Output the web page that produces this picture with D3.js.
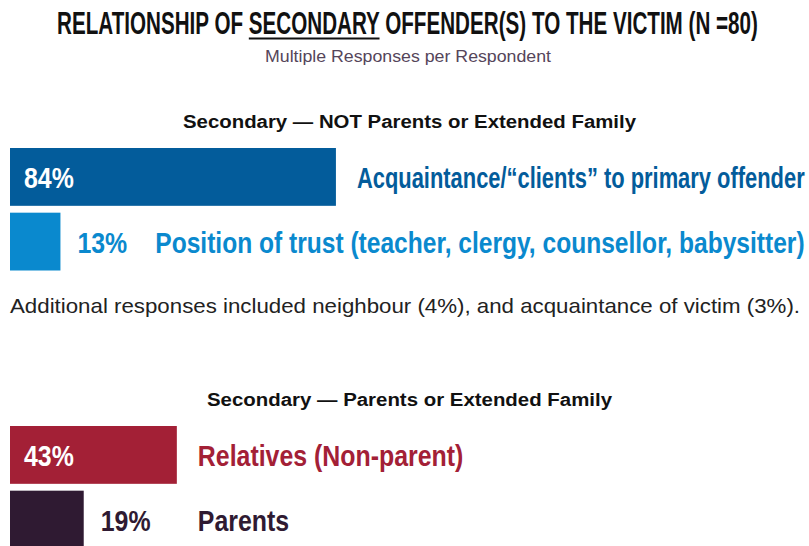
<!DOCTYPE html>
<html>
<head>
<meta charset="utf-8">
<script src="https://cdn.jsdelivr.net/npm/d3@7"></script>
<style>
  body { margin: 0; background: #fff; }
  text { font-family: "Liberation Sans", Arial, sans-serif; }
</style>
</head>
<body>
<div id="chart"></div>
<script>
// chart data
const groupTitles = ['Secondary — NOT Parents or Extended Family', 'Secondary — Parents or Extended Family']
const notCategories = ['Acquaintance/“clients” to primary offender', 'Position of trust (teacher, clergy, counsellor, babysitter)']
const notValues = [84, 13]
const familyCategories = ['Relatives (Non-parent)', 'Parents']
const familyValues = [43, 19]
const noteText = 'Additional responses included neighbour (4%), and acquaintance of victim (3%).'

const notColors = ['#035c9b', '#0a89ce']
const familyColors = ['#a32036', '#2f1a32']

const width = 809, height = 546
const squeeze = 0.83   // condensed look for the big labels

const svg = d3.select('#chart').append('svg')
  .attr('width', width)
  .attr('height', height)

// squeeze/stretch a text to a given width
function fit(sel, w) {
  sel.attr('textLength', w).attr('lengthAdjust', 'spacingAndGlyphs')
  return sel
}

// a text drawn at (0,0) inside a group, condensed by a horizontal scale
function condensed(parent, str, size, color) {
  const g = parent.append('g')
  const t = g.append('text')
    .attr('font-size', size)
    .attr('font-weight', 'bold')
    .attr('fill', color)
    .text(str)
  return { g, t, w: t.node().getComputedTextLength() }
}

// title, condensed through a horizontal scale so the underline follows it
const titleText = 'RELATIONSHIP OF SECONDARY OFFENDER(S) TO THE VICTIM (N =80)'
const title = condensed(svg, titleText, 31, '#111')
const tn = title.t.node()
const u0 = titleText.indexOf('SECONDARY')
const ux = tn.getSubStringLength(0, u0)
const uw = tn.getSubStringLength(u0, 9)
title.g.attr('transform', `translate(57,34) scale(${701 / title.w},1)`)
title.g.append('line')
  .attr('x1', ux)
  .attr('x2', ux + uw)
  .attr('y1', 4.5)
  .attr('y2', 4.5)
  .attr('stroke', '#111')
  .attr('stroke-width', 2)

fit(svg.append('text')
  .attr('x', 265)
  .attr('y', 62)
  .attr('font-size', 16)
  .attr('fill', '#55455a')
  .text('Multiple Responses per Respondent'), 286)

const x = d3.scaleLinear().domain([0, 100]).range([10, 398])

function drawGroup(heading, cats, vals, colors, top, headWidth) {
  const g = svg.append('g')

  fit(g.append('text')
    .attr('x', width / 2 + 5)
    .attr('y', top - 20)
    .attr('text-anchor', 'middle')
    .attr('font-family', 'Open Sans')
    .attr('font-size', 18)
    .attr('font-weight', 'bold')
    .attr('fill', '#111')
    .text(heading), headWidth)

  const y = d3.scaleBand()
    .domain(cats)
    .range([top, top + 122.5])
    .paddingInner(0.106)

  const rows = cats.map((c, i) => ({ cat: c, val: vals[i], color: colors[i] }))
  const base = d => y(d.cat) + y.bandwidth() / 2 + 11

  g.selectAll('rect')
    .data(rows)
    .enter()
    .append('rect')
    .attr('x', x(0))
    .attr('y', d => y(d.cat))
    .attr('width', d => x(d.val) - x(0))
    .attr('height', y.bandwidth())
    .attr('fill', d => d.color)

  // percent: inside the bar when it is long, after it when short
  const ends = rows.map(d => {
    const inside = d.val > 30
    const p = condensed(g, d.val + '%', 30, inside ? '#fff' : d.color)
    const px = inside ? x(0) + 14 : x(d.val) + 17
    p.g.attr('transform', `translate(${px},${base(d)}) scale(${squeeze},1)`)
    const pe = inside ? 0 : px + p.w * squeeze
    return Math.max(x(d.val) + 21, pe + 28)
  })

  // category labels, aligned when they all fit
  const labels = rows.map(d => condensed(g, d.cat, 30, d.color))
  const common = d3.max(ends)
  const aligned = d3.max(labels, l => common + l.w * squeeze) <= width - 4
  labels.forEach((l, i) => {
    const lx = aligned ? common : ends[i]
    const k = Math.min(squeeze, (width - 4 - lx) / l.w)
    l.g.attr('transform', `translate(${lx},${base(rows[i])}) scale(${k},1)`)
  })
  return g
}

drawGroup(groupTitles[0], notCategories, notValues, notColors, 148, 453)

fit(svg.append('text')
  .attr('x', 10)
  .attr('y', 313)
  .attr('font-size', 21)
  .attr('fill', '#222')
  .text(noteText), 790)

drawGroup(groupTitles[1], familyCategories, familyValues, familyColors, 426, 405)
</script>
</body>
</html>
